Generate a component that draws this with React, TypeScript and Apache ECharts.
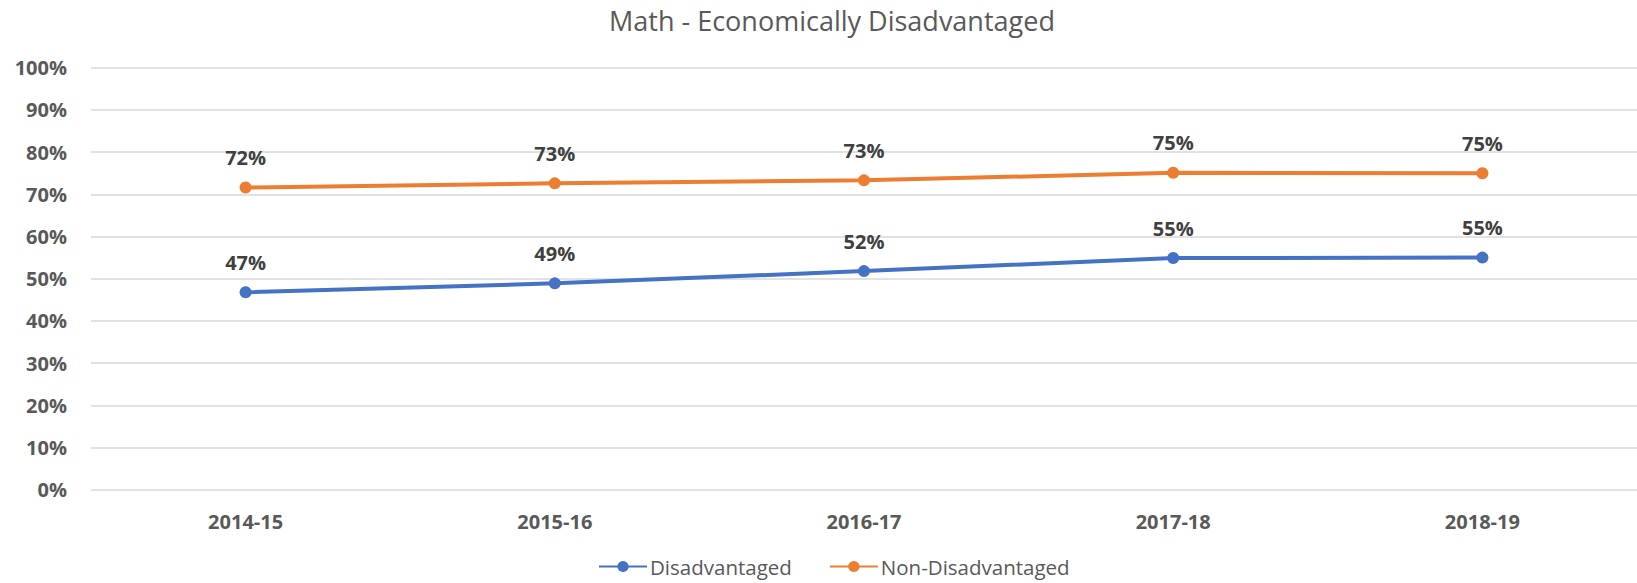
import React, { useEffect, useRef } from "react";
import * as echarts from "echarts";

const categories = ["2014-15", "2015-16", "2016-17", "2017-18", "2018-19"];
const disadvantaged = [46.8, 48.9, 51.8, 54.9, 55.0];
const nonDisadvantaged = [71.6, 72.6, 73.3, 75.1, 75.0];
const yTicks = [0, 10, 20, 30, 40, 50, 60, 70, 80, 90, 100];

const FONT = "'Open Sans', sans-serif";

export default function App() {
  const ref = useRef<HTMLDivElement>(null);
  useEffect(() => {
    if (!ref.current) return;
    const chart = echarts.init(ref.current, undefined, { renderer: "svg" });
    const labelCfg = {
      show: true,
      position: "top" as const,
      distance: 14,
      formatter: (p: any) => Math.round(p.value) + "%",
      color: "#404040",
      fontSize: 20,
      fontWeight: "bold" as const,
      fontFamily: FONT,
    };
    chart.setOption({
      animation: false,
      backgroundColor: "#ffffff",
      title: {
        text: "Math - Economically Disadvantaged",
        left: 609,
        top: 7,
        padding: 0,
        textStyle: { color: "#595959", fontSize: 27, fontWeight: "normal", fontFamily: FONT },
      },
      legend: {
        bottom: 6,
        left: 598,
        padding: 0,
        itemWidth: 48,
        itemHeight: 14,
        itemGap: 37,
        textStyle: { color: "#595959", fontSize: 20.5, fontFamily: FONT, padding: [0, 0, 0, -2] },
        data: ["Disadvantaged", "Non-Disadvantaged"],
      },
      grid: { left: 91, right: 0, top: 67.7, bottom: 93.3, containLabel: false },
      xAxis: {
        type: "category",
        data: categories,
        axisLine: { show: false },
        axisTick: { show: false },
        axisLabel: { color: "#595959", fontSize: 20, fontWeight: "bold", fontFamily: FONT, margin: 22 },
      },
      yAxis: {
        type: "value",
        min: yTicks[0],
        max: yTicks[yTicks.length - 1],
        interval: 10,
        axisLine: { show: false },
        axisTick: { show: false },
        splitLine: { lineStyle: { color: "#D9D9D9", width: 1.5 } },
        axisLabel: {
          color: "#595959",
          fontSize: 20,
          fontWeight: "bold",
          fontFamily: FONT,
          margin: 24,
          formatter: (v: number) => v + "%",
        },
      },
      series: [
        {
          name: "Disadvantaged",
          type: "line",
          data: disadvantaged,
          symbol: "circle",
          symbolSize: 12,
          lineStyle: { color: "#4472C4", width: 4 },
          itemStyle: { color: "#4472C4" },
          label: labelCfg,
        },
        {
          name: "Non-Disadvantaged",
          type: "line",
          data: nonDisadvantaged,
          symbol: "circle",
          symbolSize: 12,
          lineStyle: { color: "#ED7D31", width: 4 },
          itemStyle: { color: "#ED7D31" },
          label: labelCfg,
        },
      ],
    });
    return () => chart.dispose();
  }, []);
  return (
    <div
      ref={ref}
      style={{ position: "fixed", left: 0, top: 0, width: 1637, height: 583 }}
    />
  );
}
